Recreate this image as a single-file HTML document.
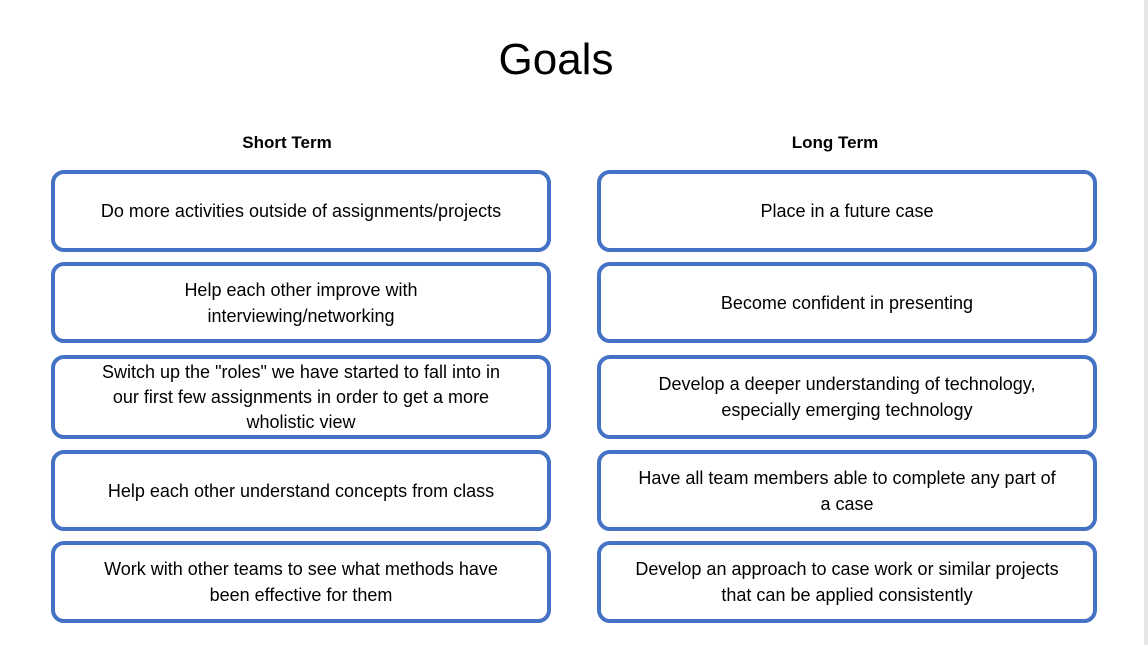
<!DOCTYPE html>
<html><head><meta charset="utf-8"><style>
html,body{margin:0;padding:0;width:1148px;height:645px;overflow:hidden;background:#fff;font-family:"Liberation Sans",sans-serif;color:#000}
.edge{position:absolute;left:1144px;top:0;width:4px;height:645px;background:#e6e6e6}
.title{position:absolute;left:0;width:1112px;top:32px;text-align:center;font-size:44px;line-height:56px}
.hdr{position:absolute;top:132px;width:300px;text-align:center;font-weight:bold;font-size:17px;line-height:22px}
.box{position:absolute;box-sizing:border-box;border:4px solid #4472C4;border-radius:13px;display:flex;align-items:center;justify-content:center;text-align:center;font-size:18px;line-height:26px;padding:0 8px;background:#fff;white-space:nowrap}
.l{left:51px;width:500px}.r{left:597px;width:500px}
</style></head><body>
<div class="edge"></div>
<div class="title">Goals</div>
<div class="hdr" style="left:137px">Short Term</div>
<div class="hdr" style="left:685px">Long Term</div>

<div class="box l" style="top:170px;height:82px">Do more activities outside of assignments/projects</div>
<div class="box l" style="top:262px;height:81px">Help each other improve with<br>interviewing/networking</div>
<div class="box l" style="top:355px;height:84px;line-height:25px">Switch up the "roles" we have started to fall into in<br>our first few assignments in order to get a more<br>wholistic view</div>
<div class="box l" style="top:450px;height:81px">Help each other understand concepts from class</div>
<div class="box l" style="top:541px;height:82px">Work with other teams to see what methods have<br>been effective for them</div>

<div class="box r" style="top:170px;height:82px">Place in a future case</div>
<div class="box r" style="top:262px;height:81px">Become confident in presenting</div>
<div class="box r" style="top:355px;height:84px">Develop a deeper understanding of technology,<br>especially emerging technology</div>
<div class="box r" style="top:450px;height:81px">Have all team members able to complete any part of<br>a case</div>
<div class="box r" style="top:541px;height:82px">Develop an approach to case work or similar projects<br>that can be applied consistently</div>
</body></html>
